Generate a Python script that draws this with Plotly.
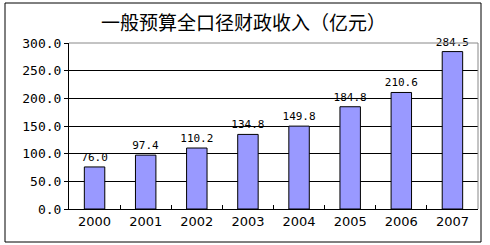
import plotly.graph_objects as go

years = ["2000", "2001", "2002", "2003", "2004", "2005", "2006", "2007"]
revenue = [76.0, 97.4, 110.2, 134.8, 149.8, 184.8, 210.6, 284.5]
title_text = "一般预算全口径财政收入（亿元）"

W, H = 490, 245
L, R, T, B = 69, 12, 43, 36
pw, ph = W - L - R, H - T - B

def px(x):
    return (x - L) / pw

def py(y):
    return (H - B - y) / ph

fig = go.Figure(go.Bar(
    x=years, y=revenue,
    marker=dict(color="#9999FF", line=dict(color="black", width=1)),
    text=[f"{v:.1f}" for v in revenue],
    textposition="outside",
    constraintext="none",
    textfont=dict(family="DejaVu Sans Mono", size=11, color="black"),
    cliponaxis=False,
    hoverinfo="skip",
))

fig.update_layout(
    width=W, height=H,
    margin=dict(l=L, r=R, t=T, b=B),
    paper_bgcolor="white", plot_bgcolor="white",
    bargap=0.6,
    showlegend=False,
    font=dict(family="DejaVu Sans Mono", color="black"),
    uniformtext=dict(mode=False),
)

fig.update_xaxes(
    type="category",
    showline=True, linecolor="black", linewidth=1,
    ticks="inside", tickson="boundaries", ticklen=4, tickcolor="black",
    tickfont=dict(family="DejaVu Sans", size=13),
    showgrid=False,
)
fig.update_yaxes(
    range=[0, 300], dtick=50, tickformat=".1f",
    showline=True, linecolor="black", linewidth=1,
    ticks="outside", ticklen=4, tickcolor="black",
    gridcolor="black", gridwidth=1,
    tickfont=dict(family="DejaVu Sans Mono", size=13),
    zeroline=False,
)

# plot frame top/right in gray
fig.add_shape(type="line", xref="paper", yref="paper", x0=0, x1=1, y0=1, y1=1,
              line=dict(color="#888888", width=1), layer="above")
fig.add_shape(type="line", xref="paper", yref="paper", x0=1, x1=1, y0=0, y1=1,
              line=dict(color="#888888", width=1), layer="above")
# outer border
fig.add_shape(type="rect", xref="paper", yref="paper",
              x0=px(5), x1=px(481), y0=py(242), y1=py(3),
              line=dict(color="black", width=1), layer="below")

fig.add_annotation(
    text=title_text, xref="paper", yref="paper",
    x=px(243), y=py(22), xanchor="center", yanchor="middle",
    showarrow=False,
    font=dict(family="Noto Sans CJK SC", size=19, color="black"),
)

fig.write_html("out.html")
